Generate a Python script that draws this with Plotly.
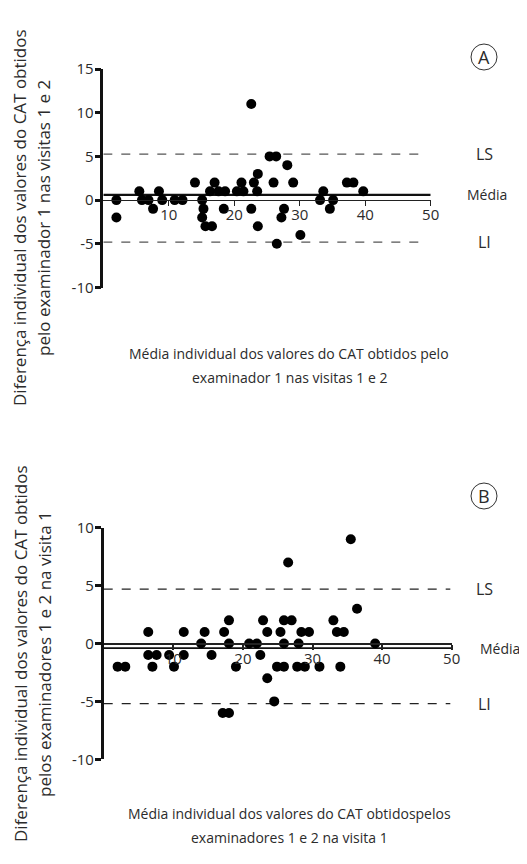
import plotly.graph_objects as go

W, H = 527, 864
OFF = 8  # default page body margin, compensated below
FW, FH = W - OFF, H - OFF

# ---------------- Data ----------------
# Panel A: examiner 1, visits 1 and 2
a_mean = [2.0, 2.0, 5.5, 5.9, 6.9, 7.6, 8.5, 9.0, 10.9, 12.1, 14.0, 15.1, 15.3, 15.1,
          15.6, 16.6, 16.3, 17.0, 17.6, 18.6, 18.4, 20.4, 21.1, 21.4, 22.6, 23.0, 23.6,
          23.5, 22.6, 23.6, 25.4, 26.4, 26.0, 26.5, 27.2, 27.6, 28.1, 29.0, 30.1, 33.6,
          33.1, 35.1, 34.6, 37.2, 38.2, 39.7]
a_diff = [0, -2, 1, 0, 0, -1, 1, 0, 0, 0, 2, 0, -1, -2,
          -3, -3, 1, 2, 1, 1, -1, 1, 2, 1, 11, 2, 3,
          1, -1, -3, 5, 5, 2, -5, -2, -1, 4, 2, -4, 1,
          0, 0, -1, 2, 2, 1]
a_ls, a_media, a_li = 5.25, 0.6, -4.8

# Panel B: examiners 1 and 2, visit 1
b_mean = [2.0, 3.1, 6.4, 6.4, 7.0, 7.6, 9.4, 10.1, 11.5, 11.5, 14.0, 14.5, 15.5, 17.3,
          18.0, 18.0, 17.1, 18.0, 19.0, 20.9, 22.0, 22.5, 22.9, 23.5, 23.5, 24.5, 24.9,
          25.9, 25.4, 25.9, 27.0, 25.9, 26.5, 28.0, 27.8, 28.4, 28.9, 29.5, 31.0, 33.0,
          33.5, 34.5, 34.0, 35.5, 36.4, 39.0]
b_diff = [-2, -2, 1, -1, -2, -1, -1, -2, 1, -1, 0, 1, -1, 1,
          2, 0, -6, -6, -2, 0, 0, -1, 2, 1, -3, -5, -2,
          -2, 1, 2, 2, 0, 7, 0, -2, 1, -2, 1, -2, 2,
          1, 1, -2, 9, 3, 0]
b_ls, b_media, b_li = 4.7, -0.4, -5.2

x_ticks = [10, 20, 30, 40, 50]
ya_ticks = [-10, -5, 0, 5, 10, 15]
yb_ticks = [-10, -5, 0, 5, 10]

limit_labels = ["LS", "Média", "LI"]
panel_letters = ["A", "B"]
xtitle_a = ["Média individual dos valores do CAT obtidos pelo", "examinador 1 nas visitas 1 e 2"]
xtitle_b = ["Média individual dos valores do CAT obtidospelos", "examinadores 1 e 2 na visita 1"]
ytitle_a = ["Diferença individual dos valores do CAT obtidos", "pelo examinador 1 nas visitas 1 e 2"]
ytitle_b = ["Diferença individual dos valores do CAT obtidos", "pelos examinadores 1 e 2 na visita 1"]

# ---------------- Helpers ----------------
FONT = "Open Sans"
TXT = "#2b2b2b"


def px(x):
    return (x - OFF) / FW


def py(y):
    return 1 - (y - OFF) / FH


fig = go.Figure()

fig.add_trace(go.Scatter(x=a_mean, y=a_diff, mode="markers", xaxis="x", yaxis="y",
                         marker=dict(size=10, color="black"), showlegend=False,
                         cliponaxis=False))
fig.add_trace(go.Scatter(x=b_mean, y=b_diff, mode="markers", xaxis="x2", yaxis="y2",
                         marker=dict(size=10, color="black"), showlegend=False,
                         cliponaxis=False))

# domains (pixel based)
ya_dom = [py(287.5), py(69)]
yb_dom = [py(759.3), py(527.7)]
xa_dom = [px(103.3), px(430.7)]
xb_dom = [px(103.7), px(451.7)]

pos_a = ya_dom[0] + (0 - (-10)) / 25 * (ya_dom[1] - ya_dom[0])
pos_b = yb_dom[0] + (0 - (-10)) / 20 * (yb_dom[1] - yb_dom[0])

tickfont = dict(family=FONT, size=15, color=TXT)

common_x = dict(range=[0, 50], showgrid=False, zeroline=False, showline=True,
                linecolor="#222", ticks="outside", ticklen=5, tickcolor="#222",
                tickvals=x_ticks, ticktext=[str(v) for v in x_ticks], tickfont=tickfont,
                anchor="free", automargin=False, ticklabelstandoff=-4)
common_y = dict(showgrid=False, zeroline=False, showline=True, linecolor="#111",
                linewidth=2.5, ticks="outside", ticklen=6, tickwidth=2.5, tickcolor="#111",
                tickfont=tickfont, automargin=False, ticklabelstandoff=-2)

fig.update_layout(
    width=FW, height=FH,
    margin=dict(l=0, r=0, t=0, b=0, autoexpand=False),
    paper_bgcolor="white", plot_bgcolor="rgba(0,0,0,0)",
    xaxis=dict(domain=xa_dom, position=pos_a, linewidth=1.3, tickwidth=1.3, **common_x),
    yaxis=dict(domain=ya_dom, range=[-10, 15], anchor="x", tickvals=ya_ticks,
               ticktext=[str(v) for v in ya_ticks], **common_y),
    xaxis2=dict(domain=xb_dom, position=pos_b, linewidth=2.2, tickwidth=2, **common_x),
    yaxis2=dict(domain=yb_dom, range=[-10, 10], anchor="x2", tickvals=yb_ticks,
                ticktext=[str(v) for v in yb_ticks], **common_y),
)

shapes = []
# Panel A reference lines
for val in [a_ls, a_li]:
    shapes.append(dict(type="line", xref="x", yref="y", x0=0, x1=48.7, y0=val, y1=val,
                       line=dict(color="#555", width=1.3, dash="dash"), layer="below"))
shapes.append(dict(type="line", xref="x", yref="y", x0=0, x1=50, y0=a_media, y1=a_media,
                   line=dict(color="#111", width=2.2), layer="below"))
# Panel B reference lines
for val in [b_ls, b_li]:
    shapes.append(dict(type="line", xref="x2", yref="y2", x0=0, x1=49.8, y0=val, y1=val,
                       line=dict(color="#222", width=1.3, dash="dash"), layer="below"))
shapes.append(dict(type="line", xref="x2", yref="y2", x0=0, x1=50.7, y0=b_media, y1=b_media,
                   line=dict(color="#111", width=1.6), layer="below"))

# circled letters
CIRC = [(484, 57), (484, 496)]
for cx, cy in CIRC:
    r = 13
    shapes.append(dict(type="circle", xref="paper", yref="paper",
                       x0=px(cx - r), x1=px(cx + r), y0=py(cy + r), y1=py(cy - r),
                       line=dict(color="#333", width=1)))
fig.update_layout(shapes=shapes)

ann = []
CM = dict(xanchor="center", yanchor="middle", showarrow=False)
for letter, (cx, cy) in zip(panel_letters, CIRC):
    ann.append(dict(text=letter, x=px(cx), y=py(cy), xref="paper", yref="paper",
                    font=dict(family=FONT, size=18, color=TXT), **CM))

# limit labels
for (yref, vals, xcs) in [("y", [a_ls, a_media, a_li], [484, 487, 484]),
                          ("y2", [b_ls, b_media, b_li], [484, 500, 484])]:
    for lab, v, xc in zip(limit_labels, vals, xcs):
        ann.append(dict(text=lab, x=px(xc), y=v, xref="paper", yref=yref,
                        font=dict(family=FONT, size=16 if lab != "Média" else 14, color=TXT),
                        **CM))

# x titles
for lines, ys in [(xtitle_a, [353, 377]), (xtitle_b, [813, 837])]:
    for t, yy in zip(lines, ys):
        ann.append(dict(text=t, x=px(289), y=py(yy), xref="paper", yref="paper",
                        font=dict(family=FONT, size=14, color=TXT), **CM))

# y titles
for lines, yc in [(ytitle_a, 218), (ytitle_b, 654)]:
    for t, xx in zip(lines, [20, 44]):
        ann.append(dict(text=t, x=px(xx), y=py(yc), xref="paper", yref="paper",
                        textangle=-90, font=dict(family=FONT, size=17, color=TXT), **CM))

fig.update_layout(annotations=ann)

fig.write_html("out.html")
